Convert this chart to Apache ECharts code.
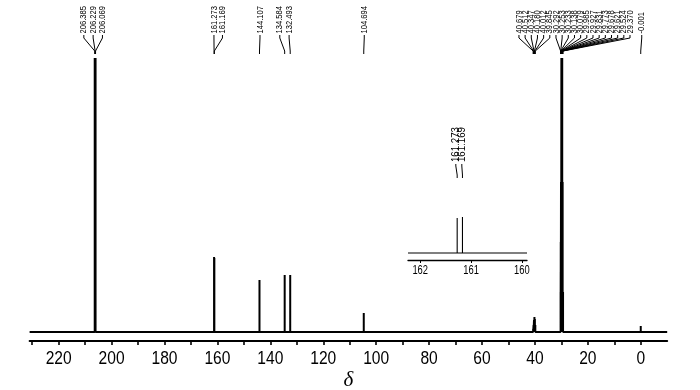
<!DOCTYPE html>
<html><head><meta charset="utf-8">
<script src="https://cdn.jsdelivr.net/npm/echarts@6/dist/echarts.min.js"></script>
<style>html,body{margin:0;padding:0;background:#fff}#c{width:700px;height:390px}</style>
</head><body><div id="c"></div>
<script>
// ---- data ----
const peakPPM = [206.385, 206.229, 206.069, 161.273, 161.169, 144.107, 134.584, 132.493, 104.694,
  40.679, 40.512, 40.347, 40.180, 40.012, 39.845,
  30.292, 30.253, 30.233, 30.138, 30.079, 29.985, 29.927, 29.831, 29.773, 29.678, 29.621, 29.524, 29.370,
  -0.001];
const peakHeight = [300, 320, 300, 75, 74, 52, 57, 57, 19,
  3, 7, 12, 15, 13, 7,
  40, 60, 90, 150, 120, 320, 220, 330, 220, 320, 120, 150, 40,
  6];
const mainTickValues = [0, 10, 20, 30, 40, 50, 60, 70, 80, 90, 100, 110, 120, 130, 140, 150, 160, 170, 180, 190, 200, 210, 220, 230];
const mainLabelValues = [0, 20, 40, 60, 80, 100, 120, 140, 160, 180, 200, 220];
const insetTickValues = [160, 161, 162];
const insetPeakPPM = [161.273, 161.169];
const insetPeakHeight = [35, 36];

// ---- layout ----
const MAIN = {min: -10, max: 231};
const INSET = {min: 159.9, max: 162.24};
const SANS = '"Liberation Sans", Arial, sans-serif';
const LABEL_GROUPS = [
  {idx: [0, 1, 2], spacing: 9.3, shift: -2},
  {idx: [3, 4], spacing: 8.5, shift: 4},
  {idx: [5], spacing: 0, shift: 0.5},
  {idx: [6, 7], spacing: 9.3, shift: -3},
  {idx: [8], spacing: 0, shift: 0.5},
  {idx: [9,10,11,12,13,14,15,16,17,18,19,20,21,22,23,24,25,26,27], spacing: 6.17, shift: 21.5},
  {idx: [28], spacing: 0, shift: 1}
];

function stickData(pos, hts, lo, hi) {
  const order = pos.map((p, i) => i).sort((a, b) => pos[b] - pos[a]);
  const d = [[hi, 0]];
  order.forEach(i => { d.push([pos[i], 0], [pos[i], hts[i]], [pos[i], 0]); });
  d.push([lo, 0]);
  return d;
}

const chart = echarts.init(document.getElementById('c'), null, {renderer: 'canvas'});
chart.setOption({
  animation: false,
  backgroundColor: '#fff',
  grid: [
    {left: 29.6, right: 32.8, top: 59, bottom: 49, containLabel: false, outerBoundsMode: 'none'},
    {left: 408, right: 173, top: 190, bottom: 130, containLabel: false, outerBoundsMode: 'none'}
  ],
  xAxis: [
    {type: 'value', gridIndex: 0, inverse: true, min: MAIN.min, max: MAIN.max,
      axisLine: {show: true, onZero: false, lineStyle: {color: '#000', width: 2}},
      axisTick: {show: true, inside: false, length: 4, customValues: mainTickValues, lineStyle: {color: '#000', width: 1.6}},
      axisLabel: {show: false},
      splitLine: {show: false},
      name: 'δ', nameLocation: 'middle', nameGap: 29,
      nameTextStyle: {fontFamily: '"Liberation Serif", "Times New Roman", serif', fontStyle: 'italic', fontSize: 21, color: '#000'}
    },
    {type: 'value', gridIndex: 1, inverse: true, min: INSET.min, max: INSET.max,
      axisLine: {show: true, onZero: false, lineStyle: {color: '#000', width: 1.3}},
      axisTick: {show: true, inside: false, length: 3, customValues: insetTickValues, lineStyle: {color: '#000', width: 1}},
      axisLabel: {show: false},
      splitLine: {show: false}
    }
  ],
  yAxis: [
    {type: 'value', gridIndex: 0, min: -9, max: 273, show: false},
    {type: 'value', gridIndex: 1, min: -7, max: 63, show: false}
  ],
  series: [
    {type: 'line', xAxisIndex: 0, yAxisIndex: 0, data: stickData(peakPPM, peakHeight, MAIN.min, MAIN.max),
      showSymbol: false, symbol: 'none', clip: true,
      lineStyle: {color: '#000', width: 2}, silent: true},
    {type: 'line', xAxisIndex: 1, yAxisIndex: 1, data: stickData(insetPeakPPM, insetPeakHeight, INSET.min, INSET.max),
      showSymbol: false, symbol: 'none', clip: true,
      lineStyle: {color: '#000', width: 1.1}, silent: true}
  ]
});

const graphics = [];
// ---- axis tick labels (condensed, like the original) ----
function addAxisLabels(vals, axisIndex, y, fontSize, sx) {
  vals.forEach(v => {
    const x = chart.convertToPixel({xAxisIndex: axisIndex}, v);
    graphics.push({type: 'text', x: x, y: y, scaleX: sx, silent: true,
      style: {text: String(v), fill: '#000', fontSize: fontSize, fontFamily: SANS, align: 'center', verticalAlign: 'middle'}});
  });
}
addAxisLabels(mainLabelValues, 0, 359, 19, 0.82);
addAxisLabels(insetTickValues, 1, 270.5, 13, 0.72);

// ---- peak labels with leader lines ----
function addLabels(texts, pixX, groups, cfg) {
  groups.forEach(g => {
    const n = g.idx.length;
    const mean = g.idx.reduce((s, i) => s + pixX[i], 0) / n;
    const center = mean + g.shift;
    g.idx.forEach((i, k) => {
      const tx = center + (k - (n - 1) / 2) * g.spacing;
      const px = pixX[i];
      graphics.push({type: 'text', x: tx, y: cfg.textY, rotation: Math.PI / 2, scaleX: cfg.sx, silent: true,
        style: {text: texts[i], fill: '#000', fontSize: cfg.fontSize, fontFamily: SANS, align: 'left', verticalAlign: 'middle'}});
      graphics.push({type: 'polyline', silent: true, shape: {points: [[tx, cfg.l0], [tx, cfg.l1], [px, cfg.l2], [px, cfg.l3]]},
        style: {stroke: '#000', lineWidth: 1, fill: null}});
    });
  });
}
const mainPix = peakPPM.map(p => chart.convertToPixel({xAxisIndex: 0}, p));
addLabels(peakPPM.map(p => p.toFixed(3)), mainPix, LABEL_GROUPS,
  {textY: 33.5, fontSize: 9.5, sx: 0.8, l0: 35, l1: 38, l2: 51, l3: 54});
const insetPix = insetPeakPPM.map(p => chart.convertToPixel({xAxisIndex: 1}, p));
addLabels(insetPeakPPM.map(p => p.toFixed(3)), insetPix, [{idx: [0, 1], spacing: 6, shift: -1}],
  {textY: 162, fontSize: 11.5, sx: 0.84, l0: 164, l1: 166, l2: 175, l3: 178});
chart.setOption({graphic: {elements: graphics}});
</script>
</body></html>
